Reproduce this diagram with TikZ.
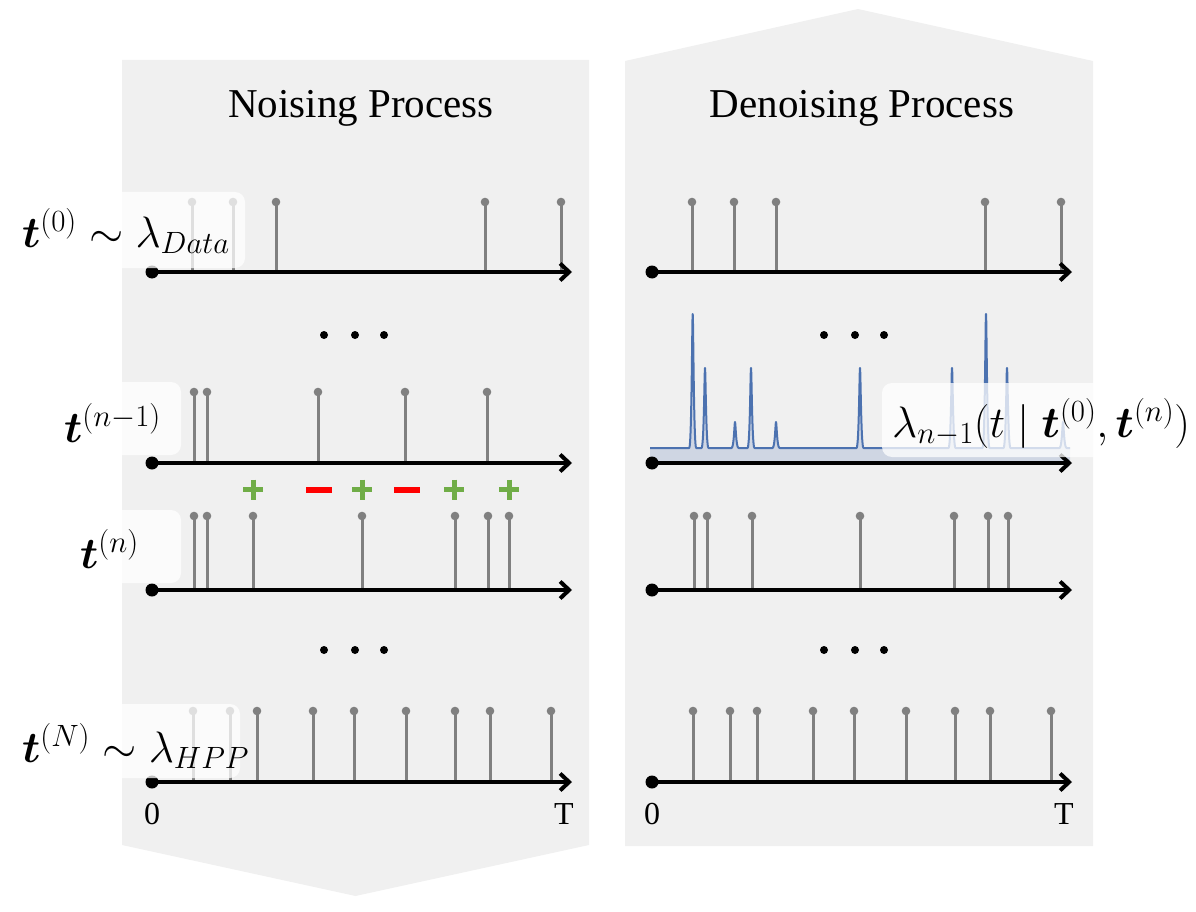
\RequirePackage{fix-cm}
\documentclass[tikz,border=0pt]{standalone}
\usepackage[no-math]{fontspec}
\setmainfont{Liberation Serif}
\usepackage{bm}
\usetikzlibrary{arrows.meta}
\definecolor{panel}{HTML}{F0F0F0}
\definecolor{stemgray}{HTML}{808080}
\definecolor{curveblue}{HTML}{4C72B0}
\definecolor{plusgreen}{HTML}{70AD47}
\definecolor{minusred}{HTML}{FF0000}
\begin{document}
\begin{tikzpicture}[x=1pt,y=-1pt,
  panelbg/.style={fill=panel},
  axisline/.style={line width=4.5pt,-{Straight Barb[length=9pt,width=17pt,line width=4pt]}},
  stemline/.style={stemgray,line width=3pt},
  labbox/.style={fill=white,opacity=0.75,rounded corners=10pt},
  mathlab/.style={anchor=base west,inner sep=0pt,font=\fontsize{44}{52}\selectfont},
  titletext/.style={anchor=base,inner sep=0pt,font=\fontsize{41}{49}\selectfont},
  ticktext/.style={anchor=base,inner sep=0pt,font=\fontsize{32}{38}\selectfont},
  plusmark/.style={plusgreen,line width=5pt},
  minusmark/.style={minusred,line width=6.5pt}]
\useasboundingbox (0,0) rectangle (1196,912);
% panels
\fill[panelbg] (122,60) -- (589,60) -- (589,845) -- (355.5,896) -- (122,845) -- cycle;
\fill[panelbg] (625,61) -- (858,9) -- (1093,61) -- (1093,846) -- (625,846) -- cycle;
% titles
\node[titletext] (titleL) at (361,118) {Noising Process};
\node[titletext] (titleR) at (862,118) {Denoising Process};
% stems
\newcommand{\stemrow}[3]{%
  \foreach \sx in {#1} {%
    \draw[stemline] (\sx,#2) -- (\sx,#3);
    \fill[stemgray] (\sx,#3) circle[radius=4.3pt];
  }}
\stemrow{192,233,276,485,561}{272}{202}
\stemrow{692,734,776,985,1061}{272}{202}
\stemrow{194,207,318,405,487}{463}{392}
\stemrow{194,207,253,362,455,488,509}{590}{516}
\stemrow{694,707,752,860,954,988,1008}{590}{516}
\stemrow{193,230,257,313,354,406,455,490,551}{782}{711}
\stemrow{693,730,757,813,854,906,955,990,1051}{782}{711}
% intensity curve
\fill[curveblue,opacity=0.2] (650,448)
  \foreach \c/\h in {692.7/314,705/368,735/422,751/368,776/422,860/368,952/368,986/314,1007/368,1063/422} {
    -- ({\c-3.5},448) .. controls ({\c-1},448) and ({\c-0.6},\h) .. (\c,\h)
    .. controls ({\c+0.6},\h) and ({\c+1},448) .. ({\c+3.5},448) }
  -- (1070,448) -- (1070,463) -- (650,463) -- cycle;
\draw[curveblue,line width=2pt,line join=round] (650,448)
  \foreach \c/\h in {692.7/314,705/368,735/422,751/368,776/422,860/368,952/368,986/314,1007/368,1063/422} {
    -- ({\c-3.5},448) .. controls ({\c-1},448) and ({\c-0.6},\h) .. (\c,\h)
    .. controls ({\c+0.6},\h) and ({\c+1},448) .. ({\c+3.5},448) }
  -- (1070,448);
% axes
\foreach \ay/\nm in {272/a,463/b,590/c,782/d} {
  \coordinate (L\nm s) at (152,\ay);
  \coordinate (L\nm e) at (572,\ay);
  \coordinate (R\nm s) at (652,\ay);
  \coordinate (R\nm e) at (1072,\ay);
  \draw[axisline] (L\nm s) -- (L\nm e);
  \draw[axisline] (R\nm s) -- (R\nm e);
  \fill (L\nm s) circle[radius=6.5pt];
  \fill (R\nm s) circle[radius=6.5pt];
}
% dots
\foreach \dx in {324,355,384,824,855,884} {
  \fill (\dx,335) circle[radius=4pt];
  \fill (\dx,650) circle[radius=4pt];
}
% plus / minus
\foreach \px in {253,362,454,509} {
  \draw[plusmark] (\px-10,489.5) -- (\px+10,489.5);
  \draw[plusmark] (\px,479.5) -- (\px,499.5);
}
\foreach \mx in {319,407} {
  \draw[minusmark] (\mx-13,490) -- (\mx+13,490);
}
% label boxes
\fill[labbox] (10,192) rectangle (245,268);
\fill[labbox] (10,382) rectangle (181,455);
\fill[labbox] (10,510) rectangle (181,583);
\fill[labbox] (10,704) rectangle (240,778);
\fill[labbox] (882,383) rectangle (1192,457);
% labels
\node[mathlab] (lab0) at (22,247) {$\bm{t}^{(0)}\sim\lambda_{Data}$};
\node[mathlab] (labn1) at (64,442) {$\bm{t}^{(n-1)}$};
\node[mathlab] (labn) at (80,568) {$\bm{t}^{(n)}$};
\node[mathlab] (labN) at (22,762) {$\bm{t}^{(N)}\sim\lambda_{HPP}$};
\node[mathlab] (labR) at (892,437) {$\lambda_{n-1}(t\mid\bm{t}^{(0)},\bm{t}^{(n)})$};
% ticks
\node[ticktext] (zeroL) at (152,824) {0};
\node[ticktext] (TL) at (564,824) {T};
\node[ticktext] (zeroR) at (652,824) {0};
\node[ticktext] (TR) at (1064,824) {T};
\end{tikzpicture}
\end{document}
